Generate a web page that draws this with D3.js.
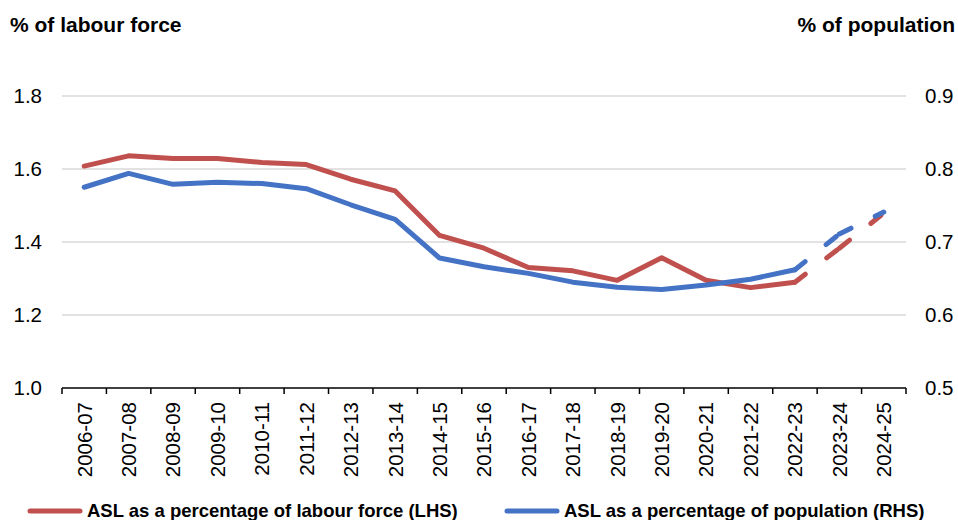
<!doctype html>
<html lang="en">
<head>
  <meta charset="utf-8">
  <title>ASL chart</title>
  <style>
    body { margin: 0; background: #fff; }
    svg { display: block; font-family: Arial, "Liberation Sans", sans-serif; }
  </style>
</head>
<body>
  <svg id="chart" width="958" height="520"></svg>
  <script src="https://cdn.jsdelivr.net/npm/d3@7"></script>
  <script>
    // data
    const years = ["2006-07","2007-08","2008-09","2009-10","2010-11","2011-12","2012-13",
      "2013-14","2014-15","2015-16","2016-17","2017-18","2018-19","2019-20","2020-21",
      "2021-22","2022-23","2023-24","2024-25"];
    const labourForce = [1.608,1.636,1.629,1.629,1.618,1.612,1.572,1.540,1.418,1.383,
      1.330,1.321,1.295,1.357,1.295,1.275,1.290,1.383,1.479];
    const population = [0.775,0.794,0.779,0.782,0.780,0.773,0.751,0.731,0.678,0.666,
      0.657,0.645,0.638,0.635,0.641,0.649,0.662,0.711,0.741];
    const leftTicks = [1.0,1.2,1.4,1.6,1.8];
    const rightTicks = [0.5,0.6,0.7,0.8,0.9];
    const firstProjected = 16; // dashed from 2022-23 on

    const svg = d3.select("#chart");
    const plotLeft = 62, plotRight = 906, plotTop = 96, plotBottom = 388;

    const x = d3.scaleBand().domain(years).range([plotLeft, plotRight]);
    const yL = d3.scaleLinear().domain([1.0, 1.8]).range([plotBottom, plotTop]);
    const yR = d3.scaleLinear().domain([0.5, 0.9]).range([plotBottom, plotTop]);
    const cx = d => x(d) + x.bandwidth() / 2;

    // gridlines
    svg.append("g").selectAll("line").data(leftTicks.filter(t => t > 1.0)).join("line")
      .attr("x1", plotLeft).attr("x2", plotRight)
      .attr("y1", d => yL(d)).attr("y2", d => yL(d))
      .attr("stroke", "#d9d9d9").attr("stroke-width", 1.5);

    // left axis labels
    svg.append("g").selectAll("text").data(leftTicks).join("text")
      .attr("x", 42).attr("y", d => yL(d)).attr("dy", "0.36em")
      .attr("text-anchor", "end").attr("font-size", 20.5).attr("fill", "#000")
      .text(d => d.toFixed(1));

    // right axis labels
    svg.append("g").selectAll("text").data(rightTicks).join("text")
      .attr("x", 925).attr("y", d => yR(d)).attr("dy", "0.36em")
      .attr("text-anchor", "start").attr("font-size", 20.5).attr("fill", "#000")
      .text(d => d.toFixed(1));

    // x axis
    const xAxis = svg.append("g");
    xAxis.append("line").attr("x1", plotLeft).attr("x2", plotRight)
      .attr("y1", plotBottom).attr("y2", plotBottom)
      .attr("stroke", "#000").attr("stroke-width", 1.5);
    xAxis.selectAll("line.tick").data(d3.range(years.length + 1)).join("line")
      .attr("class", "tick")
      .attr("x1", i => plotLeft + i * x.step()).attr("x2", i => plotLeft + i * x.step())
      .attr("y1", plotBottom).attr("y2", plotBottom + 6)
      .attr("stroke", "#000").attr("stroke-width", 1.5);
    xAxis.selectAll("text").data(years).join("text")
      .attr("transform", d => `translate(${cx(d)},${plotBottom + 14}) rotate(-90)`)
      .attr("dy", "0.36em").attr("text-anchor", "end")
      .attr("font-size", 20.5).attr("fill", "#000")
      .text(d => d);

    // axis titles
    svg.append("text").attr("x", 10).attr("y", 32)
      .attr("font-size", 21).attr("font-weight", "bold").text("% of labour force");
    svg.append("text").attr("x", 955).attr("y", 32).attr("text-anchor", "end")
      .attr("font-size", 21).attr("font-weight", "bold").text("% of population");

    // lines
    function drawSeries(vals, yScale, color) {
      const pts = years.map((d, i) => [cx(d), yScale(vals[i])]);
      const line = d3.line();
      svg.append("path").attr("d", line(pts.slice(0, firstProjected + 1)))
        .attr("fill", "none").attr("stroke", color).attr("stroke-width", 5)
        .attr("stroke-linejoin", "round").attr("stroke-linecap", "round");
      for (let i = firstProjected; i < pts.length - 1; i++) {
        svg.append("path").attr("d", line([pts[i], pts[i + 1]]))
          .attr("fill", "none").attr("stroke", color).attr("stroke-width", 5)
          .attr("stroke-dasharray", "13,27").attr("stroke-linecap", "round");
      }
    }
    drawSeries(labourForce, yL, "#c0504d");
    drawSeries(population, yR, "#4472c4");

    // legend
    const legend = [
      {label: "ASL as a percentage of labour force (LHS)", color: "#c0504d", x: 28},
      {label: "ASL as a percentage of population (RHS)", color: "#4472c4", x: 505}
    ];
    const lg = svg.append("g").selectAll("g").data(legend).join("g");
    lg.append("line").attr("x1", d => d.x + 2).attr("x2", d => d.x + 52)
      .attr("y1", 511).attr("y2", 511)
      .attr("stroke", d => d.color).attr("stroke-width", 5).attr("stroke-linecap", "round");
    lg.append("text").attr("x", d => d.x + 59).attr("y", 517)
      .attr("font-size", 18.5).attr("font-weight", "bold").text(d => d.label);
  </script>
</body>
</html>
